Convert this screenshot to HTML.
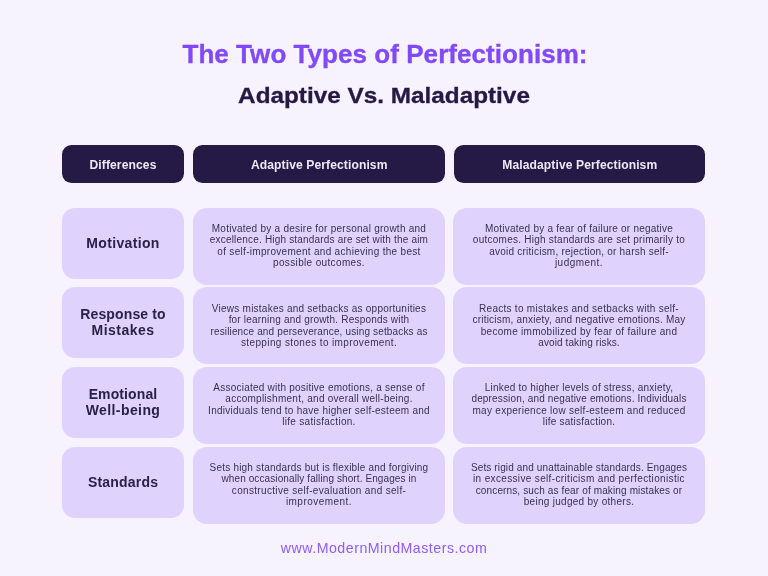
<!DOCTYPE html>
<html><head><meta charset="utf-8">
<style>
*{margin:0;padding:0;box-sizing:border-box}
html,body{width:768px;height:576px;overflow:hidden;background:#F6F3FF}
body{position:relative;font-family:"Liberation Sans",sans-serif}
.bt,.lt,.ht,.t1,.t2,.ft{will-change:transform}
.a{position:absolute;white-space:nowrap}
.ctr{text-align:center}
.t1{left:0.8px;width:768px;top:39.2px;font-size:26px;line-height:30px;font-weight:700;color:#8149FA;letter-spacing:0.05px;-webkit-text-stroke:0.35px #8149FA}
.t2{left:0;width:768px;top:83px;font-size:22px;line-height:26px;font-weight:700;color:#251A45;-webkit-text-stroke:0.3px #251A45;transform:scaleX(1.105);transform-origin:384px 0}
.h{top:145.3px;height:37.8px;border-radius:9.5px;background:#251A45}
.ht{top:154.5px;font-size:12.1px;line-height:20px;font-weight:700;color:#ECE8F7;letter-spacing:0.1px}
.c0{left:62px;width:122px}
.c1{left:192.5px;width:252.5px}
.c2{left:453.5px;width:251.5px}
.tb.c2{left:453px;width:252px}
.lb{height:71px;border-radius:13px;background:#DFD3FE}
.tb{height:77px;border-radius:14px;background:#DFD3FE}
.lt{font-size:14.0px;line-height:16.3px;font-weight:700;color:#2A2148;letter-spacing:0.12px}
.bt{font-size:10px;line-height:11.25px;color:#39314F}
.bt div{height:11.25px}
.ft{left:0;width:768px;top:538.1px;font-size:14.2px;line-height:20px;color:#8E5CF8;letter-spacing:0.5px}
</style></head><body>
<div class="a ctr t1">The Two Types of Perfectionism:</div>
<div class="a ctr t2">Adaptive Vs. Maladaptive</div>
<div class="a h c0"></div><div class="a ctr ht c0">Differences</div>
<div class="a h c1"></div><div class="a ctr ht c1">Adaptive Perfectionism</div>
<div class="a h c2"></div><div class="a ctr ht c2">Maladaptive Perfectionism</div>
<div class="a lb c0" style="top:207.5px"></div>
<div class="a ctr lt c0" style="top:234.60px"><div style="letter-spacing:0.343px">Motivation</div></div>
<div class="a tb c1" style="top:207.5px"></div>
<div class="a ctr bt" style="left:168.5px;width:300px;top:222.80px"><div style="letter-spacing:0.256px">Motivated by a desire for personal growth and</div><div style="letter-spacing:0.186px">excellence. High standards are set with the aim</div><div style="letter-spacing:0.301px">of self-improvement and achieving the best</div><div style="letter-spacing:0.353px">possible outcomes.</div></div>
<div class="a tb c2" style="top:207.5px"></div>
<div class="a ctr bt" style="left:429px;width:300px;top:222.80px"><div style="letter-spacing:0.229px">Motivated by a fear of failure or negative</div><div style="letter-spacing:0.246px">outcomes. High standards are set primarily to</div><div style="letter-spacing:0.224px">avoid criticism, rejection, or harsh self-</div><div style="letter-spacing:0.468px">judgment.</div></div>
<div class="a lb c0" style="top:287.3px"></div>
<div class="a ctr lt c0" style="top:306.40px"><div style="letter-spacing:0.120px">Response to</div><div style="letter-spacing:0.463px">Mistakes</div></div>
<div class="a tb c1" style="top:287.3px"></div>
<div class="a ctr bt" style="left:168.5px;width:300px;top:302.60px"><div style="letter-spacing:0.238px">Views mistakes and setbacks as opportunities</div><div style="letter-spacing:0.192px">for learning and growth. Responds with</div><div style="letter-spacing:0.152px">resilience and perseverance, using setbacks as</div><div style="letter-spacing:0.373px">stepping stones to improvement.</div></div>
<div class="a tb c2" style="top:287.3px"></div>
<div class="a ctr bt" style="left:429px;width:300px;top:302.60px"><div style="letter-spacing:0.273px">Reacts to mistakes and setbacks with self-</div><div style="letter-spacing:0.211px">criticism, anxiety, and negative emotions. May</div><div style="letter-spacing:0.277px">become immobilized by fear of failure and</div><div style="letter-spacing:0.107px">avoid taking risks.</div></div>
<div class="a lb c0" style="top:367px"></div>
<div class="a ctr lt c0" style="top:386.10px"><div style="letter-spacing:0.120px">Emotional</div><div style="letter-spacing:0.409px">Well-being</div></div>
<div class="a tb c1" style="top:367px"></div>
<div class="a ctr bt" style="left:168.5px;width:300px;top:382.30px"><div style="letter-spacing:0.224px">Associated with positive emotions, a sense of</div><div style="letter-spacing:0.258px">accomplishment, and overall well-being.</div><div style="letter-spacing:0.260px">Individuals tend to have higher self-esteem and</div><div style="letter-spacing:0.275px">life satisfaction.</div></div>
<div class="a tb c2" style="top:367px"></div>
<div class="a ctr bt" style="left:429px;width:300px;top:382.30px"><div style="letter-spacing:0.208px">Linked to higher levels of stress, anxiety,</div><div style="letter-spacing:0.158px">depression, and negative emotions. Individuals</div><div style="letter-spacing:0.280px">may experience low self-esteem and reduced</div><div style="letter-spacing:0.221px">life satisfaction.</div></div>
<div class="a lb c0" style="top:446.8px"></div>
<div class="a ctr lt c0" style="top:473.90px"><div style="letter-spacing:0.195px">Standards</div></div>
<div class="a tb c1" style="top:446.8px"></div>
<div class="a ctr bt" style="left:168.5px;width:300px;top:462.10px"><div style="letter-spacing:0.199px">Sets high standards but is flexible and forgiving</div><div style="letter-spacing:0.099px">when occasionally falling short. Engages in</div><div style="letter-spacing:0.333px">constructive self-evaluation and self-</div><div style="letter-spacing:0.472px">improvement.</div></div>
<div class="a tb c2" style="top:446.8px"></div>
<div class="a ctr bt" style="left:429px;width:300px;top:462.10px"><div style="letter-spacing:0.132px">Sets rigid and unattainable standards. Engages</div><div style="letter-spacing:0.347px">in excessive self-criticism and perfectionistic</div><div style="letter-spacing:0.134px">concerns, such as fear of making mistakes or</div><div style="letter-spacing:0.284px">being judged by others.</div></div>
<div class="a ctr ft">www.ModernMindMasters.com</div>
</body></html>
